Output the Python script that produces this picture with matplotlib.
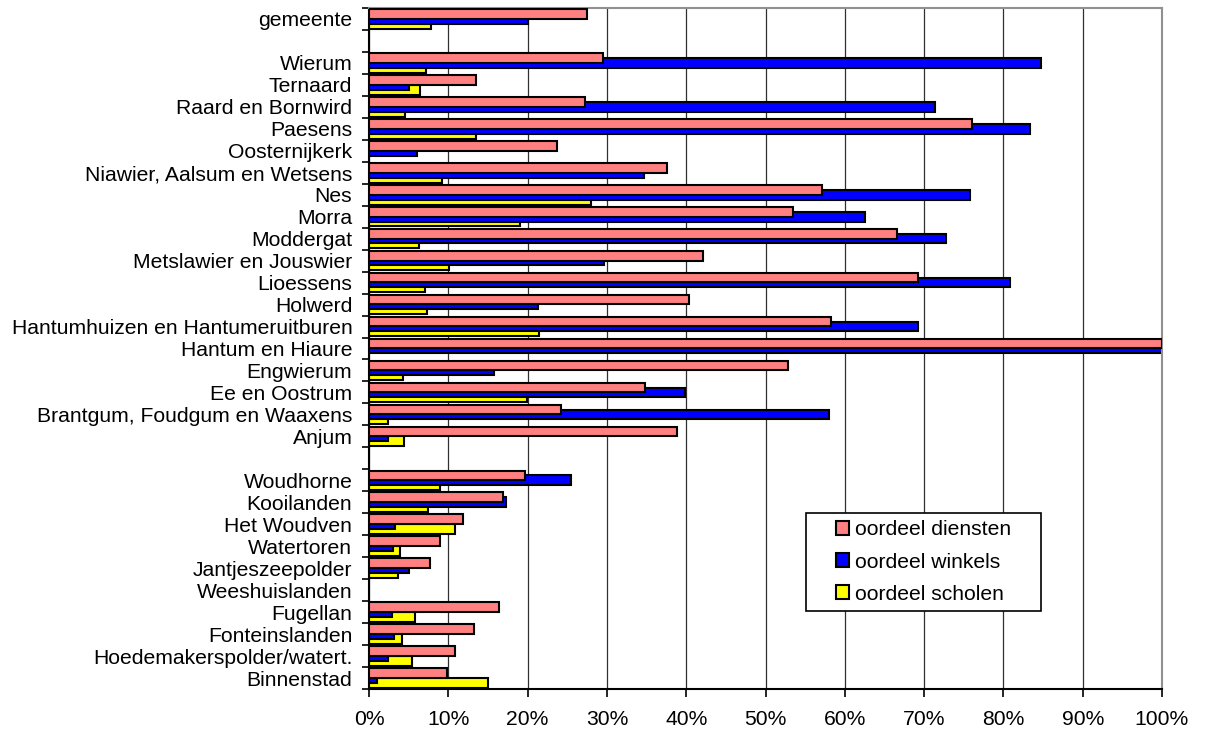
import numpy as np
import matplotlib
matplotlib.use("Agg")
import matplotlib.pyplot as plt
from matplotlib.patches import Rectangle

plt.rcParams['font.family'] = ['Liberation Sans', 'DejaVu Sans']

categories = ["gemeente", "", "Wierum", "Ternaard", "Raard en Bornwird", "Paesens",
              "Oosternijkerk", "Niawier, Aalsum en Wetsens", "Nes", "Morra", "Moddergat",
              "Metslawier en Jouswier", "Lioessens", "Holwerd",
              "Hantumhuizen en Hantumeruitburen", "Hantum en Hiaure", "Engwierum",
              "Ee en Oostrum", "Brantgum, Foudgum en Waaxens", "Anjum", "",
              "Woudhorne", "Kooilanden", "Het Woudven", "Watertoren", "Jantjeszeepolder",
              "Weeshuislanden", "Fugellan", "Fonteinslanden",
              "Hoedemakerspolder/watert.", "Binnenstad"]

diensten = [27.5, None, 29.5, 13.5, 27.2, 76.1, 23.7, 37.6, 57.1, 53.5, 66.6, 42.1, 69.2,
            40.4, 58.3, 100.0, 52.8, 34.8, 24.2, 38.9, None,
            19.7, 16.9, 11.8, 9.0, 7.7, 0.0, 16.4, 13.2, 10.8, 9.8]
winkels = [20.0, None, 84.8, 5.1, 71.4, 83.3, 6.0, 34.7, 75.8, 62.5, 72.7, 29.6, 80.8,
           21.3, 69.2, 100.0, 15.7, 39.8, 58.0, 2.4, None,
           25.5, 17.3, 3.3, 3.0, 5.1, 0.0, 2.9, 3.1, 2.4, 1.0]
scholen = [7.8, None, 7.2, 6.4, 4.5, 13.5, 0.0, 9.2, 28.0, 19.1, 6.3, 10.1, 7.1,
           7.3, 21.4, 0.0, 4.3, 19.9, 2.4, 4.4, None,
           9.0, 7.4, 10.9, 3.9, 3.6, 0.0, 5.8, 4.2, 5.4, 15.0]

series_names = ["oordeel diensten", "oordeel winkels", "oordeel scholen"]
xticks = [0, 10, 20, 30, 40, 50, 60, 70, 80, 90, 100]

colors = ["#FF8080", "#0000FF", "#FFFF00"]
FS = 15.2
W, H = 1206, 733

fig = plt.figure(figsize=(W / 100, H / 100), dpi=100)
ax = fig.add_axes([369/W, 1-689/H, (1162-369)/W, (689-8)/H])

n = len(categories)
centers = np.arange(n) + 0.5
offsets = [-0.225, 0.0, 0.225]
h = 0.44
zs = [3, 2, 1]
for vals, col, off, z, name in zip([diensten, winkels, scholen], colors, offsets, zs, series_names):
    v = np.array([np.nan if x is None else x for x in vals], dtype=float)
    mask = ~np.isnan(v) & (v > 0)
    ax.barh(centers[mask] + off, v[mask], height=h, color=col, edgecolor='black',
            linewidth=1.5, zorder=z, label=name)

ax.set_xlim(0, 100)
ax.set_ylim(n, 0)
ax.set_xticks(xticks)
ax.set_xticklabels([f"{t}%" for t in xticks], fontsize=FS)
ax.xaxis.grid(True, color='#303030', linewidth=0.9, zorder=0)
ax.set_axisbelow(True)

ax.set_yticks(np.arange(n + 1))
ax.set_yticklabels([])
ax.set_yticks(centers, minor=True)
ax.set_yticklabels(categories, minor=True, fontsize=FS)
ax.tick_params(axis='y', which='minor', length=0, pad=12)
ax.tick_params(axis='y', which='major', length=5, width=1.2, direction='out')
ax.tick_params(axis='x', length=6, width=1.2, direction='out', pad=9)

for s in ['left', 'bottom']:
    ax.spines[s].set_color('black')
    ax.spines[s].set_linewidth(1.5)
for s in ['top', 'right']:
    ax.spines[s].set_color('#909090')
    ax.spines[s].set_linewidth(1.5)

# legend frame
fig.patches.append(Rectangle((806/W, 1-611/H), (1041-806)/W, (611-513)/H,
                             transform=fig.transFigure, facecolor='white',
                             edgecolor='black', linewidth=1.2, zorder=5))
leg = fig.legend(loc='center left', bbox_to_anchor=(836/W, 1-562/H),
                 frameon=False, fontsize=FS,
                 handlelength=0.62, handleheight=0.62, handletextpad=0.3,
                 labelspacing=0.62, borderpad=0, borderaxespad=0)
leg.set_zorder(6)

fig.savefig("out.png", dpi=100)
